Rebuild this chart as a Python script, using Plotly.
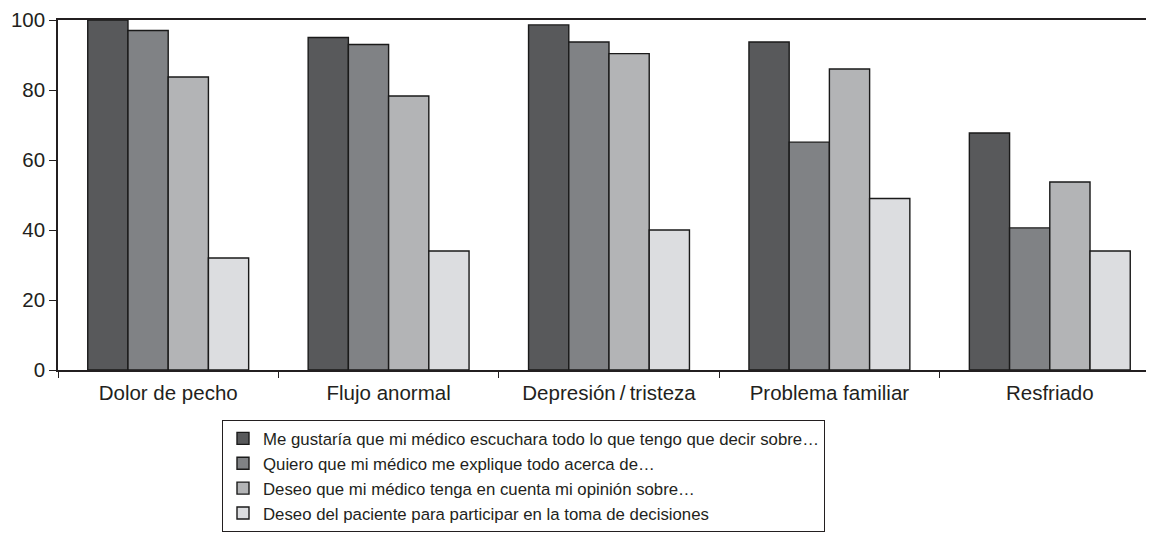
import plotly.graph_objects as go

categories = ["Dolor de pecho", "Flujo anormal", "Depresión\u2009/\u2009tristeza", "Problema familiar", "Resfriado"]
series_names = [
    "Me gustaría que mi médico escuchara todo lo que tengo que decir sobre…",
    "Quiero que mi médico me explique todo acerca de…",
    "Deseo que mi médico tenga en cuenta mi opinión sobre…",
    "Deseo del paciente para participar en la toma de decisiones",
]
escuchar = [100, 95, 98.6, 93.7, 67.7]
explicar = [97, 93, 93.7, 65.1, 40.6]
opinion = [83.7, 78.3, 90.4, 86, 53.7]
participar = [32, 34, 40, 49, 34]
series_values = [escuchar, explicar, opinion, participar]
colors = ["#58595b", "#808285", "#b3b4b6", "#dcdde0"]
y_ticks = [0, 20, 40, 60, 80, 100]

fig = go.Figure()
for name, vals, col in zip(series_names, series_values, colors):
    fig.add_trace(go.Bar(
        x=categories, y=vals, name=name,
        marker=dict(color=col, line=dict(color="#1a1a1a", width=1.4)),
    ))

font_family = "Liberation Sans, Arial, sans-serif"
W, H = 1154, 545
L, R, T, B = 50, 2, 12, 183
pw, ph = W - L - R, H - T - B
fig.update_layout(
    width=W, height=H,
    margin=dict(l=L, r=R, t=T, b=B, autoexpand=False),
    paper_bgcolor="white", plot_bgcolor="white",
    barmode="group", bargap=0.27, bargroupgap=0,
    font=dict(family=font_family, size=20.5, color="#231f20"),
    showlegend=True,
    legend=dict(
        x=(214 - L) / pw, y=-(412 - T - ph) / ph, xanchor="left", yanchor="top",
        bordercolor="#231f20", borderwidth=1,
        font=dict(size=16.8, color="#231f20"),
        tracegroupgap=0, itemwidth=30,
        bgcolor="white",
    ),
)
fig.update_xaxes(
    type="category", range=[-0.5, 4.5], tickangle=0,
    showline=True, linecolor="#231f20", linewidth=1.5, mirror=True,
    ticks="outside", tickson="boundaries", ticklen=6, tickcolor="#231f20",
    ticklabelstandoff=4,
    showgrid=False, zeroline=False,
)
fig.update_yaxes(
    range=[0, 100], tickvals=y_ticks,
    showline=True, linecolor="#231f20", linewidth=1.5,
    ticks="outside", ticklen=7, tickcolor="#231f20",
    showgrid=False, zeroline=False,
)
fig.write_html("out.html")
